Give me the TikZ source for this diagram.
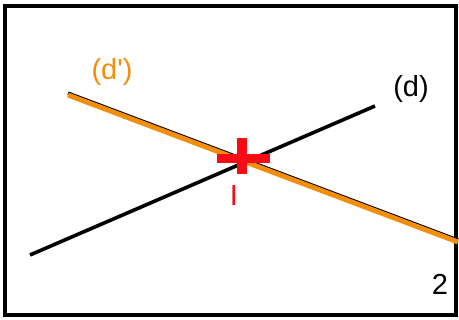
\documentclass[tikz,border=0pt]{standalone}
\usepackage{fontspec}
\setmainfont{Liberation Sans}
\usepackage{tikz}
\usetikzlibrary{positioning,calc}
\definecolor{droite}{RGB}{242,142,10}
\definecolor{inter}{RGB}{250,10,20}

\begin{document}
\begin{tikzpicture}[x=1pt,y=-1pt, lbl/.style={font=\fontsize{29}{30}\selectfont, inner sep=0pt}, ligne/.style={line width=3.6pt}]
        \useasboundingbox (0,0) rectangle (459,320);
        \draw[line width=4.5pt] (5,6) rectangle (456,315);
        \coordinate (d-a) at (30,255); \coordinate (d-b) at (375,106);
        \coordinate (dp-a) at (68,95); \coordinate (dp-b) at (458,242);
        \coordinate (I) at (241.5,159);
        \draw[ligne, black] (d-a) -- (d-b);
        \draw[ligne, black] ([yshift=1.8pt]dp-a) -- ([yshift=1.8pt]dp-b);
        \draw[line width=5pt, droite] (dp-a) -- (dp-b);
        \draw[line width=9pt, inter] ([xshift=-25pt]I) -- ([xshift=28pt]I);
        \draw[line width=10pt, inter] ([yshift=-15pt]I) -- ([yshift=21pt]I);
        \node[lbl, text=droite] (lbl-dp) at (112,72) {(d\textquotesingle)};
        \node[lbl] (lbl-d) at (411,89) {(d)};
        \node[lbl, text=inter] (lbl-I) at (234,196) {I};
        \node[lbl] (lbl-2) at (440,284) {2};
\end{tikzpicture}
\end{document}
